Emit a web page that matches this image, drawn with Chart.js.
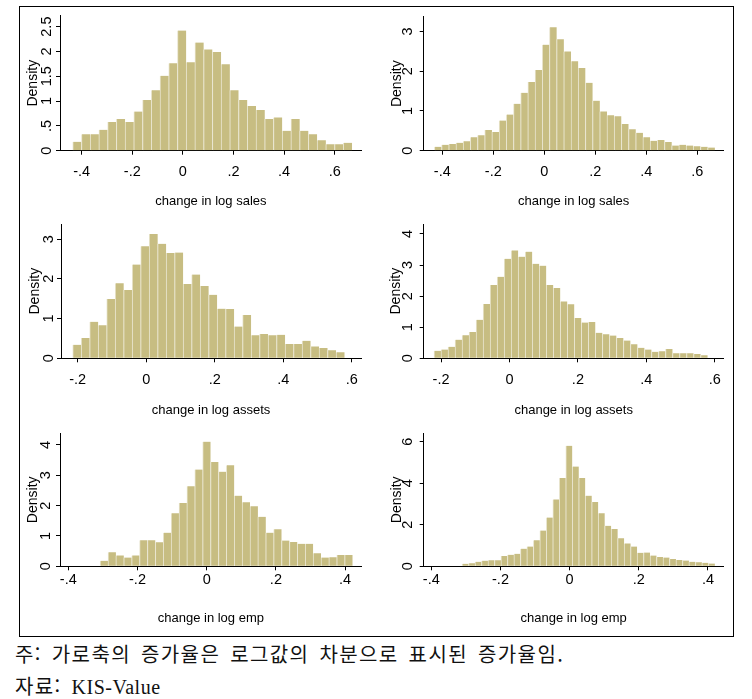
<!DOCTYPE html>
<html lang="ko">
<head>
<meta charset="UTF-8">
<title>Growth rate histograms</title>
<style>
    body {
        margin: 0;
        padding: 0;
        background: #fff;
        width: 752px;
        height: 699px;
        overflow: hidden;
        position: relative;
    }

    .frame {
        position: absolute;
        left: 19px;
        top: 6px;
        width: 715px;
        height: 631px;
        border: 1px solid #000;
        box-sizing: border-box;
    }

    canvas.panel {
        position: absolute;
    }

    .note {
        position: absolute;
        left: 15px;
        top: 638px;
        font-family: 'Noto Sans CJK KR', sans-serif;
        font-size: 20px;
        line-height: 32px;
        letter-spacing: 1.4px;
        word-spacing: 3px;
        color: #111;
        white-space: nowrap;
    }

    .note .latin {
        font-family: 'Liberation Serif', serif;
        letter-spacing: 0.5px;
    }
</style>
</head>
<body>
<div class="frame"></div>
<div class="note">주: 가로축의 증가율은 로그값의 차분으로 표시된 증가율임.<br>자료: <span class="latin">KIS-Value</span></div>

<script src="https://cdn.jsdelivr.net/npm/chart.js"></script>
<script>
    // ---- data ----
    // bins: [first bin edge, bin width]
    const salesBinsA = [-0.4355, 0.0345];
    const salesA = [0.18, 0.33, 0.33, 0.42, 0.58, 0.64, 0.58, 0.79, 1.02, 1.22, 1.51, 1.76, 2.42, 1.78, 2.18, 2.04,
        1.99, 1.74, 1.22, 1.02, 0.90, 0.82, 0.64, 0.67, 0.40, 0.64, 0.40, 0.33, 0.21, 0.13, 0.13, 0.16];

    const salesBinsB = [-0.431, 0.0282];
    const salesB = [0.10, 0.15, 0.17, 0.20, 0.24, 0.34, 0.39, 0.52, 0.47, 0.76, 0.91, 1.18, 1.46, 1.73, 2.03, 2.67,
        3.11, 2.81, 2.50, 2.25, 2.08, 1.71, 1.26, 0.99, 0.89, 0.87, 0.67, 0.54, 0.45, 0.34, 0.25, 0.27, 0.22, 0.13,
        0.15, 0.13, 0.11, 0.10, 0.08];

    const assetsBinsA = [-0.2146, 0.0248];
    const assetsA = [0.34, 0.51, 0.92, 0.83, 1.49, 1.89, 1.72, 2.36, 2.82, 3.13, 2.88, 2.65, 2.66, 1.87, 2.11, 1.82,
        1.60, 1.25, 1.24, 0.80, 1.09, 0.58, 0.61, 0.58, 0.59, 0.36, 0.36, 0.44, 0.30, 0.26, 0.20, 0.15];

    const assetsBinsB = [-0.2205, 0.0205];
    const assetsB = [0.24, 0.28, 0.37, 0.60, 0.74, 0.85, 1.24, 1.75, 2.36, 2.62, 3.20, 3.47, 3.27, 3.43, 3.04, 2.98,
        2.36, 2.26, 1.83, 1.74, 1.30, 1.15, 1.17, 0.82, 0.77, 0.73, 0.65, 0.57, 0.45, 0.34, 0.28, 0.21, 0.23, 0.30,
        0.16, 0.16, 0.16, 0.14, 0.10];

    const empBinsA = [-0.308, 0.0228];
    const empA = [0.18, 0.46, 0.36, 0.29, 0.36, 0.86, 0.86, 0.79, 1.11, 1.75, 2.09, 2.64, 3.19, 4.11, 3.44, 3.12,
        3.33, 2.33, 2.11, 1.98, 1.63, 1.11, 1.22, 0.85, 0.80, 0.74, 0.74, 0.43, 0.29, 0.30, 0.37, 0.37];

    const empBinsB = [-0.311, 0.01874];
    const empB = [0.12, 0.15, 0.22, 0.27, 0.29, 0.29, 0.50, 0.55, 0.60, 0.85, 0.95, 1.25, 1.72, 2.35, 3.22, 4.25,
        5.80, 4.80, 4.25, 3.40, 3.10, 2.55, 1.95, 1.80, 1.35, 1.10, 0.95, 0.65, 0.66, 0.52, 0.45, 0.42, 0.35, 0.30,
        0.28, 0.22, 0.20, 0.17, 0.13];

    // tick labels
    const xTicksSales = [-0.4, -0.2, 0, 0.2, 0.4, 0.6];
    const xTicksAssets = [-0.2, 0, 0.2, 0.4, 0.6];
    const xTicksEmp = [-0.4, -0.2, 0, 0.2, 0.4];
    const yTicksSalesA = [0, 0.5, 1, 1.5, 2, 2.5];
    const yTicksSalesB = [0, 1, 2, 3];
    const yTicksAssetsA = [0, 1, 2, 3];
    const yTicksAssetsB = [0, 1, 2, 3, 4];
    const yTicksEmpA = [0, 1, 2, 3, 4];
    const yTicksEmpB = [0, 2, 4, 6];

    // ---- look ----
    const FONT = "'Liberation Sans', Arial, sans-serif";
    const TICK_SIZE = 14.5;
    const TITLE_SIZE = 13;
    const YTITLE_SIZE = 14;
    const TICK_LH = TICK_SIZE * 1.2;
    const TITLE_LH = TITLE_SIZE * 1.2;
    const YTITLE_LH = YTITLE_SIZE * 1.2;
    const TICK_LEN = 4;
    const BAR_FILL = '#c7bd82';
    const BAR_EDGE = '#e9e5cf';

    // box = canvas [left, top, width, height], area = plot [left, top, right, bottom] in page pixels
    const panels = [
        {values: salesA, bins: salesBinsA, xTicks: xTicksSales, yTicks: yTicksSalesA, xRange: [-0.4858, 0.7067], yMax: 2.72,
            title: 'change in log sales', box: [0, 0, 376, 215], area: [60, 15.7, 361.7, 150.7],
            yTickX: 46.7, yTitleX: 33.3, xTickY: 171.7, xTitleY: 201.7},
        {values: salesB, bins: salesBinsB, xTicks: xTicksSales, yTicks: yTicksSalesB, xRange: [-0.473, 0.7035], yMax: 3.375,
            title: 'change in log sales', box: [376, 0, 376, 215], area: [423.7, 16.7, 723.7, 150.7],
            yTickX: 407.7, yTitleX: 396.7, xTickY: 171.7, xTitleY: 201.7},
        {values: assetsA, bins: assetsBinsA, xTicks: xTicksAssets, yTicks: yTicksAssetsA, xRange: [-0.2488, 0.627], yMax: 3.38,
            title: 'change in log assets', box: [0, 215, 376, 210], area: [61, 224, 361, 358.3],
            yTickX: 48.5, yTitleX: 35, xTickY: 380, xTitleY: 410},
        {values: assetsB, bins: assetsBinsB, xTicks: xTicksAssets, yTicks: yTicksAssetsB, xRange: [-0.2506, 0.626], yMax: 4.32,
            title: 'change in log assets', box: [376, 215, 376, 210], area: [423.7, 224, 723.7, 358.3],
            yTickX: 407.7, yTitleX: 396, xTickY: 380, xTitleY: 410},
        {values: empA, bins: empBinsA, xTicks: xTicksEmp, yTicks: yTicksEmpA, xRange: [-0.424, 0.448], yMax: 4.385,
            title: 'change in log emp', box: [0, 425, 376, 215], area: [60, 433.3, 361.7, 566.3],
            yTickX: 45.5, yTitleX: 33.3, xTickY: 580, xTitleY: 618.3},
        {values: empB, bins: empBinsB, xTicks: xTicksEmp, yTicks: yTicksEmpB, xRange: [-0.422, 0.4454], yMax: 6.4,
            title: 'change in log emp', box: [376, 425, 376, 215], area: [423.7, 433.3, 723.7, 566.3],
            yTickX: 407.7, yTitleX: 396.7, xTickY: 580, xTitleY: 618.3}
    ];

    // Stata style numbers: .5, -.4
    function fmt(v) {
        return String(v).replace(/^(-?)0\./, '$1.');
    }

    const measureCtx = document.createElement('canvas').getContext('2d');
    function textWidth(s) {
        measureCtx.font = 'normal ' + TICK_SIZE + 'px ' + FONT;
        return measureCtx.measureText(s).width;
    }

    const tickFont = {family: FONT, size: TICK_SIZE};
    const titleFont = {family: FONT, size: TITLE_SIZE};
    const yTitleFont = {family: FONT, size: YTITLE_SIZE};

    panels.forEach(p => {
        const [cx, cy, cw, ch] = p.box;
        const [al, at, ar, ab] = p.area;

        const canvas = document.createElement('canvas');
        canvas.className = 'panel';
        canvas.width = cw;
        canvas.height = ch;
        canvas.style.left = cx + 'px';
        canvas.style.top = cy + 'px';
        document.body.appendChild(canvas);

        // rotated y labels are centred at right - tick - padding - widest/2
        const widest = Math.max(...p.yTicks.map(v => textWidth(fmt(v))));
        const yPad = (al - p.yTickX) - TICK_LEN - widest / 2;
        const xPad = p.xTickY - ab - TICK_LEN - TICK_LH / 2;

        new Chart(canvas, {
            type: 'bar',
            data: {
                datasets: [{
                    data: p.values.map((v, i) => ({x: p.bins[0] + (i + 0.5) * p.bins[1], y: v})),
                    backgroundColor: BAR_FILL,
                    borderColor: BAR_EDGE,
                    borderWidth: {left: 1, right: 0, top: 0, bottom: 0},
                    borderSkipped: false,
                    barPercentage: 1,
                    categoryPercentage: 1
                }]
            },
            options: {
                responsive: false,
                animation: false,
                events: [],
                layout: {padding: {left: 0, top: at - cy, right: cx + cw - ar, bottom: 0}},
                plugins: {legend: {display: false}, tooltip: {enabled: false}},
                scales: {
                    x: {
                        type: 'linear',
                        min: p.xRange[0],
                        max: p.xRange[1],
                        offset: false,
                        border: {display: true, color: '#000', width: 1},
                        grid: {display: true, offset: false, drawOnChartArea: false, drawTicks: true,
                            tickLength: TICK_LEN, color: '#000', tickColor: '#000'},
                        ticks: {autoSkip: false, minRotation: 0, maxRotation: 0, padding: xPad,
                            font: tickFont, color: '#000', callback: v => fmt(v)},
                        title: {display: true, text: p.title, font: titleFont, color: '#000',
                            padding: {top: 0, bottom: (cy + ch) - p.xTitleY - TITLE_LH / 2}},
                        afterBuildTicks: s => { s.ticks = p.xTicks.map(v => ({value: v})); },
                        afterFit: s => {
                            s.height = (cy + ch) - ab;
                            s.paddingLeft = 0;
                            s.paddingRight = 0;
                        }
                    },
                    y: {
                        type: 'linear',
                        min: 0,
                        max: p.yMax,
                        border: {display: true, color: '#000', width: 1},
                        grid: {display: true, drawOnChartArea: false, drawTicks: true,
                            tickLength: TICK_LEN, color: '#000', tickColor: '#000'},
                        ticks: {minRotation: 90, maxRotation: 90, crossAlign: 'center', padding: yPad,
                            font: tickFont, color: '#000', callback: v => fmt(v)},
                        title: {display: true, text: 'Density', font: yTitleFont, color: '#000',
                            padding: {top: p.yTitleX - cx - YTITLE_LH / 2, bottom: 0}},
                        afterBuildTicks: s => { s.ticks = p.yTicks.map(v => ({value: v})); },
                        afterFit: s => {
                            s.width = al - cx;
                            s.paddingTop = 0;
                            s.paddingBottom = 0;
                        }
                    }
                }
            }
        });
    });
</script>
</body>
</html>
